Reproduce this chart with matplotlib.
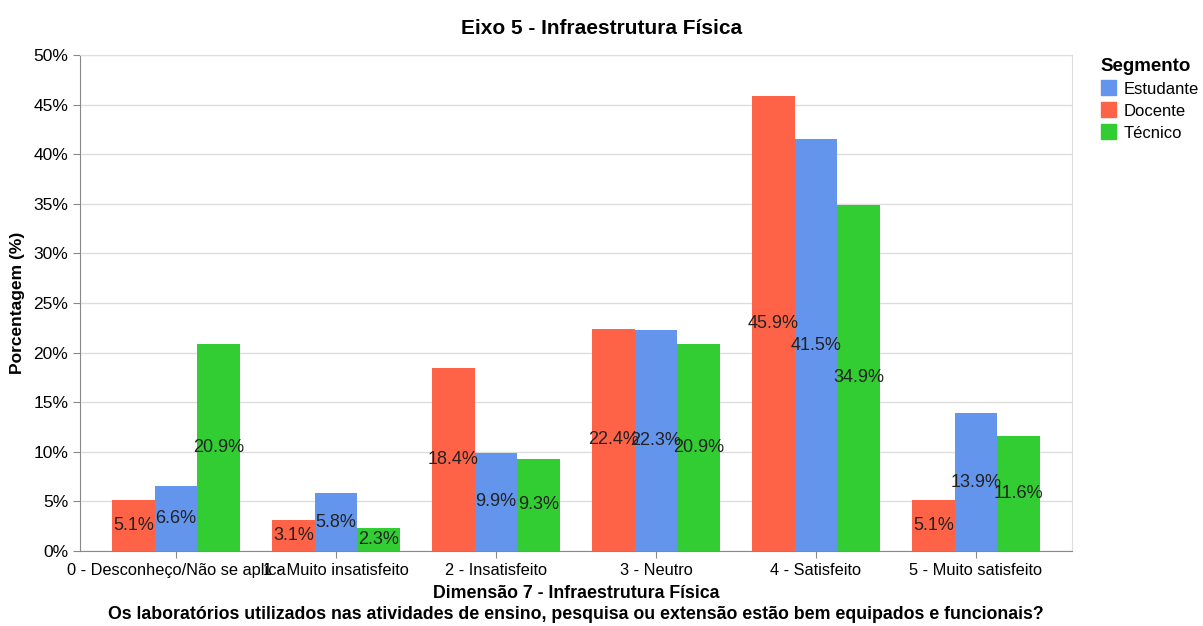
import matplotlib
matplotlib.use("Agg")
import matplotlib.pyplot as plt
import numpy as np
from matplotlib.patches import Patch

plt.rcParams["font.family"] = ["Liberation Sans", "DejaVu Sans"]

categorias = [
    "0 - Desconheço/Não se aplica",
    "1 - Muito insatisfeito",
    "2 - Insatisfeito",
    "3 - Neutro",
    "4 - Satisfeito",
    "5 - Muito satisfeito",
]
docente = [5.1, 3.1, 18.4, 22.4, 45.9, 5.1]
estudante = [6.6, 5.8, 9.9, 22.3, 41.5, 13.9]
tecnico = [20.9, 2.3, 9.3, 20.9, 34.9, 11.6]

cores = {"Estudante": "#6495ED", "Docente": "#FF6347", "Técnico": "#32CD32"}

fig = plt.figure(figsize=(12.03, 6.26), dpi=100)
ax = fig.add_axes([80 / 1203, 1 - 551 / 626, 992 / 1203, 496 / 626])

x = np.arange(len(categorias))
w = 0.8 / 3
series = [("Docente", docente), ("Estudante", estudante), ("Técnico", tecnico)]
for i, (nome, vals) in enumerate(series):
    pos = x + (i - 1) * w
    ax.bar(pos, vals, width=w, color=cores[nome], zorder=2)
    for px, v in zip(pos, vals):
        ax.text(px, v / 2, f"{v:.1f}%", ha="center", va="center", fontsize=13, color="#222222", zorder=3)

ax.set_xlim(-0.6, 5.6)
ax.set_ylim(0, 50)
ax.set_yticks(np.arange(0, 51, 5))
ax.set_yticklabels([f"{t}%" for t in range(0, 51, 5)])
ax.set_xticks(x)
ax.set_xticklabels(categorias)
ax.tick_params(axis="y", labelsize=12.5, color="#888888", length=5)
ax.tick_params(axis="x", labelsize=11.8, color="#888888", length=5)
ax.grid(axis="y", color="#dddddd", linewidth=1, zorder=0)

for s in ["top", "right"]:
    ax.spines[s].set_color("#dddddd")
for s in ["left", "bottom"]:
    ax.spines[s].set_color("#888888")

ax.set_ylabel("Porcentagem (%)", fontsize=12.5, fontweight="bold", labelpad=6)
ax.set_xlabel(
    "Dimensão 7 - Infraestrutura Física\nOs laboratórios utilizados nas atividades de ensino, pesquisa ou extensão estão bem equipados e funcionais?",
    fontsize=12.8, fontweight="bold", labelpad=5, linespacing=1.3,
)
fig.text(0.5, 1 - 28 / 626, "Eixo 5 - Infraestrutura Física", ha="center", va="center", fontsize=15, fontweight="bold")

handles = [Patch(color=cores[n]) for n in ["Estudante", "Docente", "Técnico"]]
leg = fig.legend(
    handles, ["Estudante", "Docente", "Técnico"], title="Segmento",
    loc="upper left", bbox_to_anchor=(1094 / 1203, 1 - 51 / 626),
    frameon=False, fontsize=12, handlelength=0.9, handleheight=1.0,
    handletextpad=0.5, labelspacing=0.35, borderaxespad=0,
)
leg.get_title().set_fontweight("bold")
leg.get_title().set_fontsize(13.5)
leg._legend_box.align = "left"

fig.savefig("out.png", dpi=100)
